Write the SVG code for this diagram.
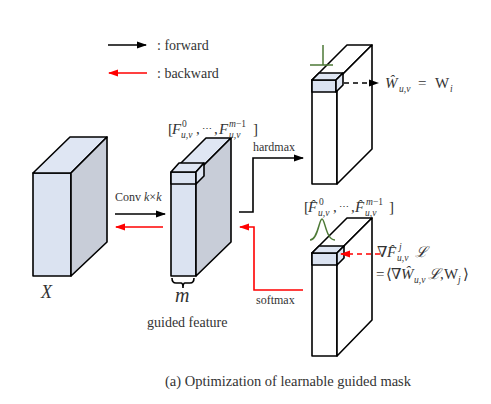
<svg xmlns="http://www.w3.org/2000/svg" width="491" height="404" viewBox="0 0 491 404">
<style>
  text { font-family: "Liberation Serif", "DejaVu Serif", serif; fill: #333; }
  .it { font-style: italic; }
  .ln { fill: none; stroke: #000; stroke-width: 1.6; }
  .rd { fill: none; stroke: #f00; stroke-width: 1.6; }
  .edge { stroke: #000; stroke-width: 1.6; stroke-linejoin: round; }
  .front { fill: #dbe3f1; }
  .side { fill: #c8cdd8; }
  .top { fill: #dfe6f3; }
  .wh { fill: #fff; }
  .gr { fill: none; stroke: #4e7a37; stroke-width: 1.5; }
  .lab { font-size: 12px; }
  .mm { font-size: 15px; }
  .dots { font-size: 10px; }
  .sb { font-size: 9.5px; }
</style>
<defs>
  <marker id="ab" markerUnits="userSpaceOnUse" markerWidth="10" markerHeight="8" refX="9" refY="4" orient="auto">
    <path d="M0,0.5 L10,4 L0,7.5 z" fill="#000"/>
  </marker>
  <marker id="ar" markerUnits="userSpaceOnUse" markerWidth="10" markerHeight="8" refX="9" refY="4" orient="auto">
    <path d="M0,0.5 L10,4 L0,7.5 z" fill="#f00"/>
  </marker>
</defs>

<g id="legend">
  <line class="ln" x1="108" y1="45" x2="146" y2="45" marker-end="url(#ab)"/>
  <text x="157" y="50" font-size="14">: forward</text>
  <line class="rd" x1="147" y1="73" x2="109" y2="73" marker-end="url(#ar)"/>
  <text x="157" y="78" font-size="14">: backward</text>
</g>

<g id="node-x">
  <polygon class="front edge" points="33,173 71,173 71,276 33,276"/>
  <polygon class="top edge" points="33,173 70,137 107,137 71,173"/>
  <polygon class="side edge" points="71,173 107,137 107,242 71,276"/>
  <text class="it" x="41" y="298" font-size="18">X</text>
</g>

<g id="node-guided">
  <polygon class="front edge" points="171,173 196,173 196,276 171,276"/>
  <polygon class="top edge" points="171,173 206,138 231,138 196,173"/>
  <polygon class="side edge" points="196,173 231,138 231,242 196,276"/>
  <polygon class="front edge" points="171,172 196,172 196,184 171,184"/>
  <polygon class="top edge" points="171,172 179,163 204,163 196,172"/>
  <polygon class="top edge" points="196,172 204,163 204,176 196,184"/>
  <path class="ln" d="M172,278 Q172,283 176,283 H181 Q183,283 183,288 Q183,283 185,283 H190 Q194,283 194,278" stroke-width="1.3"/>
  <text class="it" x="175" y="302" font-size="20">m</text>
  <text x="147" y="327" font-size="14">guided feature</text>
  <text class="mm" x="168" y="134">[</text>
  <text class="mm it" x="172" y="134">F</text>
  <text class="sb" x="182" y="127">0</text>
  <text class="sb it" x="181" y="138">u,v</text>
  <text class="mm" x="196" y="134">,</text>
  <text class="dots" x="202" y="132">⋯</text>
  <text class="mm" x="214" y="134">,</text>
  <text class="mm it" x="219" y="134">F</text>
  <text class="sb it" x="229" y="127">m<tspan font-style="normal">−1</tspan></text>
  <text class="sb it" x="229" y="138">u,v</text>
  <text class="mm" x="253" y="134">]</text>
</g>

<g id="node-hard">
  <polygon class="wh edge" points="312,80 337,80 337,184 312,184"/>
  <polygon class="wh edge" points="312,80 347,45 372,45 337,80"/>
  <polygon class="wh edge" points="337,80 372,45 372,149 337,184"/>
  <polygon class="front edge" points="312,80 336,80 336,92 312,92"/>
  <polygon class="top edge" points="312,80 319,73 343,73 336,80"/>
  <polygon class="top edge" points="336,80 343,73 343,85 336,92"/>
  <path class="gr" d="M323,45 V65 M310,65 H333"/>
  <text class="mm it" x="385" y="88">W&#x0302;</text>
  <text class="sb it" x="399" y="92">u,v</text>
  <text class="mm" x="418" y="88">=</text>
  <text class="mm" x="435" y="88">W</text>
  <text class="sb it" x="450" y="92">i</text>
</g>

<g id="node-soft">
  <polygon class="wh edge" points="312,253 337,253 337,356 312,356"/>
  <polygon class="wh edge" points="312,253 347,218 372,218 337,253"/>
  <polygon class="wh edge" points="337,253 372,218 372,320 337,356"/>
  <polygon class="front edge" points="312,253 337,253 337,265 312,265"/>
  <polygon class="top edge" points="312,253 319,246 344,246 337,253"/>
  <polygon class="top edge" points="337,253 344,246 344,258 337,265"/>
  <path class="gr" d="M310,240 C318,240 319,219 322,219 C325,219 326,240 335,240"/>
  <text class="mm" x="304" y="212">[</text>
  <text class="mm it" x="308" y="212">F&#x0302;</text>
  <text class="sb" x="319" y="205">0</text>
  <text class="sb it" x="318" y="216">u,v</text>
  <text class="mm" x="333" y="212">,</text>
  <text class="dots" x="339" y="210">⋯</text>
  <text class="mm" x="351" y="212">,</text>
  <text class="mm it" x="355" y="212">F&#x0302;</text>
  <text class="sb it" x="366" y="205">m<tspan font-style="normal">−1</tspan></text>
  <text class="sb it" x="365" y="216">u,v</text>
  <text class="mm" x="389" y="212">]</text>
  <text class="mm" x="377" y="257">∇</text>
  <text class="mm it" x="387" y="257">F&#x0302;</text>
  <text class="sb it" x="399" y="250">j</text>
  <text class="sb it" x="397" y="261">u,v</text>
  <text class="mm it" x="415" y="257">ℒ</text>
  <text class="mm" x="376" y="279">=</text>
  <text class="mm" x="386" y="279">⟨</text>
  <text class="mm" x="391" y="279">∇</text>
  <text class="mm it" x="401" y="279">W&#x0302;</text>
  <text class="sb it" x="414" y="283">u,v</text>
  <text class="mm it" x="428" y="279">ℒ</text>
  <text class="mm" x="440" y="279">,</text>
  <text class="mm" x="444" y="279">W</text>
  <text class="sb it" x="458" y="283">j</text>
  <text class="mm" x="463" y="279">⟩</text>
</g>

<g id="connectors">
  <line class="ln" x1="115" y1="214" x2="165" y2="214" marker-end="url(#ab)"/>
  <text class="lab" x="115" y="201">Conv <tspan class="it">k</tspan>×<tspan class="it">k</tspan></text>
  <line class="rd" x1="163" y1="227" x2="116" y2="227" marker-end="url(#ar)"/>
  <path class="ln" d="M239,212 H253 V158 H303" marker-end="url(#ab)"/>
  <text class="lab" x="253" y="151">hardmax</text>
  <path class="rd" d="M303,290 H254 V227 H240" marker-end="url(#ar)"/>
  <text class="lab" x="256" y="304">softmax</text>
  <line class="ln" x1="344" y1="83" x2="378" y2="83" stroke-dasharray="5,4" marker-end="url(#ab)"/>
  <line class="rd" x1="380" y1="254" x2="341" y2="254" stroke-dasharray="5,4" marker-end="url(#ar)"/>
</g>

<text x="165" y="386" font-size="14.5">(a)  Optimization of learnable guided mask</text>
</svg>
